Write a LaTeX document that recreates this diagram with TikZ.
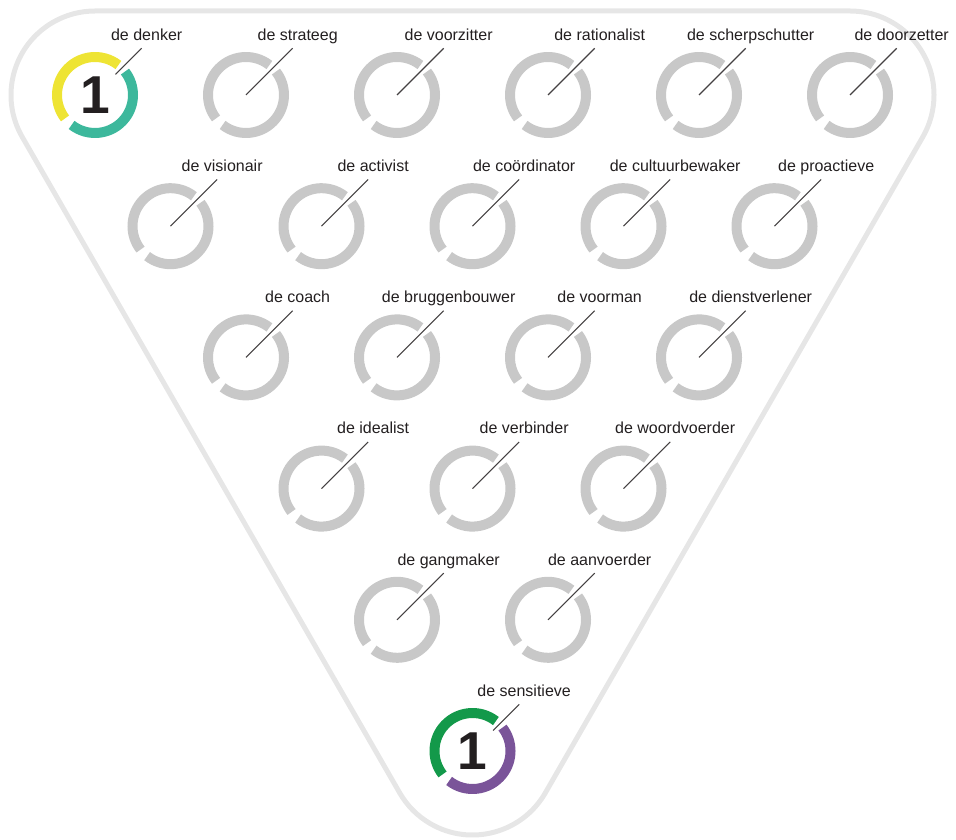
\documentclass[tikz,border=0pt]{standalone}
\usepackage{fontspec}
\setmainfont{Liberation Sans}
\usepackage{tikz}
\usetikzlibrary{calc}
\usepackage{xcolor}

\definecolor{framegray}{HTML}{E6E6E6}
\definecolor{ringgray}{HTML}{C8C8C8}
\definecolor{txtgray}{HTML}{231F20}
\definecolor{rolyellow}{HTML}{EEE434}
\definecolor{rolteal}{HTML}{3DB89C}
\definecolor{rolgreen}{HTML}{13994A}
\definecolor{rolpurple}{HTML}{7A5499}

% gray ring with leader line and label: name, x, y, label
\newcommand{\rol}[4]{%
  \coordinate (#1) at (#2,#3);
  \draw[ring] (#1) ++(52:38) arc[start angle=52, end angle=218, radius=38];
  \draw[ring] (#1) ++(232:38) arc[start angle=232, end angle=398, radius=38];
  \coordinate (#1-end) at ($(#1)+(45:66)$);
  \draw[leader] (#1) -- (#1-end);
  \node[lbl] (#1-lbl) at ($(#1-end)+(5,8)$) {#4};
}

% coloured ring with number: name, x, y, label, upper colour, lower colour
\newcommand{\rolnum}[6]{%
  \coordinate (#1) at (#2,#3);
  \draw[ring, #5] (#1) ++(52:38) arc[start angle=52, end angle=218, radius=38];
  \draw[ring, #6] (#1) ++(232:38) arc[start angle=232, end angle=398, radius=38];
  \node[digit] (#1-num) at (#1) {1};
  \coordinate (#1-start) at ($(#1)+(45:29)$);
  \coordinate (#1-end) at ($(#1)+(45:66)$);
  \draw[leader] (#1-start) -- (#1-end);
  \node[lbl] (#1-lbl) at ($(#1-end)+(5,8)$) {#4};
}

\begin{document}
\begin{tikzpicture}[x=0.75pt, y=0.75pt,
    ring/.style={ringgray, line width=7.5pt},
    leader/.style={txtgray!85, line width=0.8pt},
    lbl/.style={anchor=base, inner sep=0pt, text=txtgray, font=\fontsize{12}{14}\selectfont},
    digit/.style={inner sep=0pt, text=txtgray, font=\bfseries\fontsize{40}{40}\selectfont},
    frame/.style={framegray, line width=3.75pt}]
    \useasboundingbox (0,0) rectangle (956,839);

    % Corners of the frame
    \coordinate (A) at (95,744);
    \coordinate (B) at (850,744);
    \coordinate (C) at (472.5,88);
    \draw[frame] ($(A)+(90:84)$) -- ($(B)+(90:84)$)
        arc[start angle=90, end angle=-30, radius=84]
        -- ($(C)+(-30:84)$) arc[start angle=-30, end angle=-150, radius=84]
        -- ($(A)+(210:84)$) arc[start angle=210, end angle=90, radius=84] -- cycle;

    % Row 1
    \rolnum{denker}{95}{744}{de denker}{rolyellow}{rolteal}
    \rol{strateeg}{246}{744}{de strateeg}
    \rol{voorzitter}{397}{744}{de voorzitter}
    \rol{rationalist}{548}{744}{de rationalist}
    \rol{scherp}{699}{744}{de scherpschutter}
    \rol{doorzetter}{850}{744}{de doorzetter}

    % Row 2
    \rol{visionair}{170.5}{612.8}{de visionair}
    \rol{activist}{321.5}{612.8}{de activist}
    \rol{coord}{472.5}{612.8}{de coördinator}
    \rol{cultuur}{623.5}{612.8}{de cultuurbewaker}
    \rol{proactief}{774.5}{612.8}{de proactieve}

    % Row 3
    \rol{coach}{246}{481.6}{de coach}
    \rol{brug}{397}{481.6}{de bruggenbouwer}
    \rol{voorman}{548}{481.6}{de voorman}
    \rol{dienst}{699}{481.6}{de dienstverlener}

    % Row 4
    \rol{idealist}{321.5}{350.4}{de idealist}
    \rol{verbinder}{472.5}{350.4}{de verbinder}
    \rol{woord}{623.5}{350.4}{de woordvoerder}

    % Row 5
    \rol{gangmaker}{397}{219.2}{de gangmaker}
    \rol{aanvoerder}{548}{219.2}{de aanvoerder}

    % Row 6
    \rolnum{sensitief}{472.5}{88}{de sensitieve}{rolgreen}{rolpurple}
\end{tikzpicture}
\end{document}
